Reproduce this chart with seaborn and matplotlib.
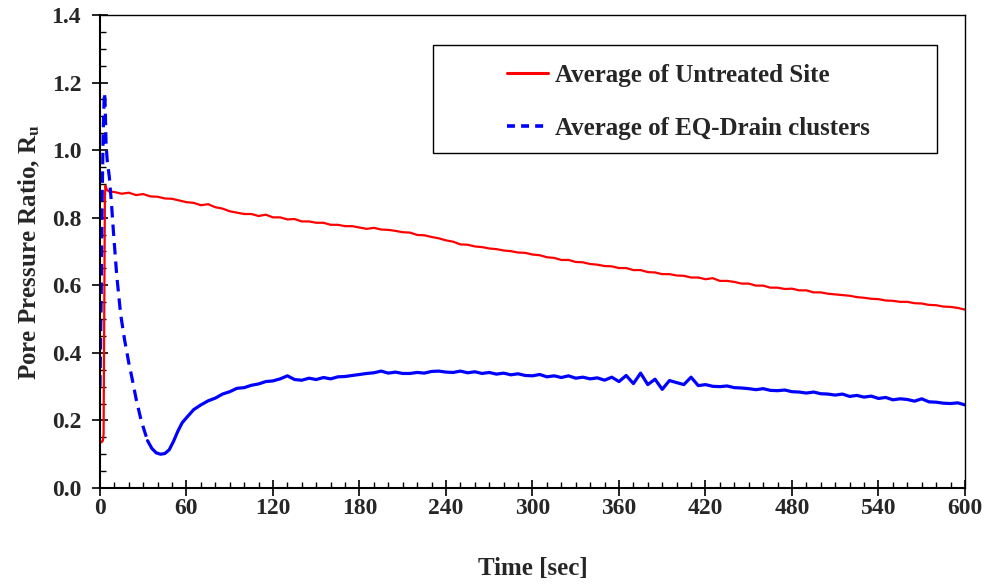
import matplotlib
matplotlib.use("Agg")
import matplotlib.pyplot as plt
from matplotlib.ticker import MultipleLocator, FormatStrFormatter
from matplotlib.lines import Line2D
from matplotlib.patches import Rectangle
import seaborn as sns

# ---- data ----
# untreated site: the jump at the start, then one reading every 5 s
red_t_start = [0, 1, 2, 2.5, 3, 3.4, 3.8, 4.5, 6]
red_v_start = [0.14, 0.135, 0.14, 0.16, 0.55, 0.86, 0.895, 0.885, 0.878]
red_t_rest = list(range(10, 601, 5))
red_v_rest = [0.876, 0.871, 0.874, 0.867, 0.870, 0.863, 0.862, 0.857, 0.856, 0.851,
              0.846, 0.844, 0.837, 0.840, 0.831, 0.827, 0.819, 0.815, 0.811, 0.811,
              0.805, 0.809, 0.801, 0.801, 0.795, 0.796, 0.789, 0.789, 0.785, 0.785,
              0.779, 0.779, 0.775, 0.775, 0.771, 0.767, 0.770, 0.765, 0.764, 0.761,
              0.757, 0.756, 0.749, 0.748, 0.743, 0.739, 0.733, 0.729, 0.721, 0.720,
              0.715, 0.713, 0.709, 0.707, 0.703, 0.701, 0.697, 0.696, 0.691, 0.689,
              0.683, 0.681, 0.675, 0.675, 0.669, 0.668, 0.663, 0.661, 0.657, 0.656,
              0.651, 0.651, 0.645, 0.645, 0.639, 0.638, 0.633, 0.633, 0.629, 0.628,
              0.623, 0.623, 0.618, 0.621, 0.613, 0.613, 0.610, 0.605, 0.605, 0.599,
              0.599, 0.593, 0.593, 0.589, 0.590, 0.585, 0.585, 0.579, 0.579, 0.575,
              0.573, 0.571, 0.569, 0.565, 0.563, 0.560, 0.559, 0.555, 0.554, 0.551,
              0.551, 0.547, 0.546, 0.542, 0.541, 0.537, 0.536, 0.533, 0.528]

# EQ-Drain clusters: steep part (dashes visible) and the long noisy tail
blue_t_steep = [0, 0.8, 1.5, 2.2, 3, 3.5, 4.2, 5, 6.5, 8, 9.3, 11.6, 14.3, 17,
                20, 22, 25, 28, 30, 33]
blue_v_steep = [0.30, 0.55, 0.85, 1.05, 1.17, 1.15, 1.02, 0.97, 0.92, 0.84, 0.760,
                0.630, 0.515, 0.440, 0.370, 0.330, 0.265, 0.210, 0.180, 0.140]
blue_t_tail = [33, 36, 39, 42, 45, 48, 51, 54, 57] + list(range(60, 601, 5))
blue_v_tail = [0.140, 0.117, 0.104, 0.100, 0.102, 0.113, 0.138, 0.168, 0.193,
               0.208, 0.232, 0.246, 0.258, 0.266, 0.278, 0.285, 0.295, 0.297, 0.304,
               0.308, 0.315, 0.317, 0.323, 0.332, 0.321, 0.319, 0.325, 0.321, 0.327,
               0.323, 0.329, 0.330, 0.333, 0.336, 0.339, 0.341, 0.346, 0.340, 0.343,
               0.339, 0.339, 0.342, 0.340, 0.345, 0.346, 0.343, 0.342, 0.346, 0.341,
               0.344, 0.339, 0.342, 0.337, 0.340, 0.335, 0.338, 0.333, 0.332, 0.336,
               0.329, 0.332, 0.327, 0.332, 0.325, 0.328, 0.323, 0.326, 0.319, 0.328,
               0.315, 0.333, 0.309, 0.340, 0.306, 0.322, 0.292, 0.318, 0.312, 0.306,
               0.328, 0.303, 0.306, 0.301, 0.300, 0.302, 0.297, 0.296, 0.294, 0.291,
               0.294, 0.289, 0.288, 0.290, 0.285, 0.284, 0.281, 0.284, 0.279, 0.278,
               0.275, 0.278, 0.271, 0.274, 0.269, 0.272, 0.265, 0.268, 0.261, 0.264,
               0.262, 0.257, 0.264, 0.255, 0.254, 0.251, 0.250, 0.252, 0.246]

red_t = red_t_start + red_t_rest
red_v = red_v_start + red_v_rest

# ---- style ----
sns.set_style("white")
plt.rcParams['font.family'] = ['Liberation Serif', 'DejaVu Serif']
plt.rcParams['font.weight'] = 'bold'
plt.rcParams['mathtext.fontset'] = 'stix'

fig = plt.figure(figsize=(9.89, 5.84), dpi=100)
ax = fig.add_axes([0.1011, 0.1644, 0.8746, 0.8099])

sns.lineplot(x=red_t, y=red_v, color='#ff0000', linewidth=1.6, sort=False,
             estimator=None, ax=ax)
sns.lineplot(x=blue_t_steep, y=blue_v_steep, color='#0000ff', linewidth=2.3,
             linestyle=(0, (3.6, 2.2)), sort=False, estimator=None, ax=ax)
sns.lineplot(x=blue_t_tail, y=blue_v_tail, color='#0000ff', linewidth=2.3,
             sort=False, estimator=None, ax=ax)

ax.set_xlim(0, 600)
ax.set_ylim(0, 1.4)
ax.xaxis.set_major_locator(MultipleLocator(60))
ax.xaxis.set_minor_locator(MultipleLocator(10))
ax.yaxis.set_major_locator(MultipleLocator(0.2))
ax.yaxis.set_minor_locator(MultipleLocator(0.05))
ax.yaxis.set_major_formatter(FormatStrFormatter('%.1f'))

ax.tick_params(which='major', direction='inout', length=11, width=1.2,
               labelsize=17, color='black')
ax.tick_params(axis='x', which='major', pad=2)
ax.tick_params(axis='y', which='major', pad=8)
ax.tick_params(which='minor', direction='in', length=4.5, width=1.0, color='black')
ax.tick_params(bottom=True, left=True, top=False, right=False)
ax.tick_params(which='minor', bottom=True, left=True, top=False, right=False)

for side, sp in ax.spines.items():
    sp.set_color('black')
    sp.set_linewidth(1.5 if side in ('left', 'bottom') else 1.0)

ax.set_xlabel('Time [sec]', fontsize=18, fontweight='bold', labelpad=27)
ax.set_ylabel(r'Pore Pressure Ratio, R$_\mathbf{u}$', fontsize=18,
              fontweight='bold', labelpad=7)

# legend box drawn separately so the entries sit centred in a wide frame
ax.add_patch(Rectangle((0.385, 0.708), 0.5826, 0.2286, transform=ax.transAxes,
                       facecolor='white', edgecolor='black', linewidth=1.0, zorder=4))
handles = [Line2D([], [], color='#ff0000', linewidth=2.2),
           Line2D([], [], color='#0000ff', linewidth=2.6, linestyle=(0, (2.2, 1.7)))]
leg = ax.legend(handles, ['Average of Untreated Site', 'Average of EQ-Drain clusters'],
                loc='upper left', bbox_to_anchor=(0.4705, 0.897), frameon=False,
                handlelength=1.64, handletextpad=0.28,
                labelspacing=1.22, borderpad=0, borderaxespad=0,
                prop={'weight': 'bold', 'size': 18})
leg.set_zorder(5)

fig.savefig('out.png', dpi=100)
